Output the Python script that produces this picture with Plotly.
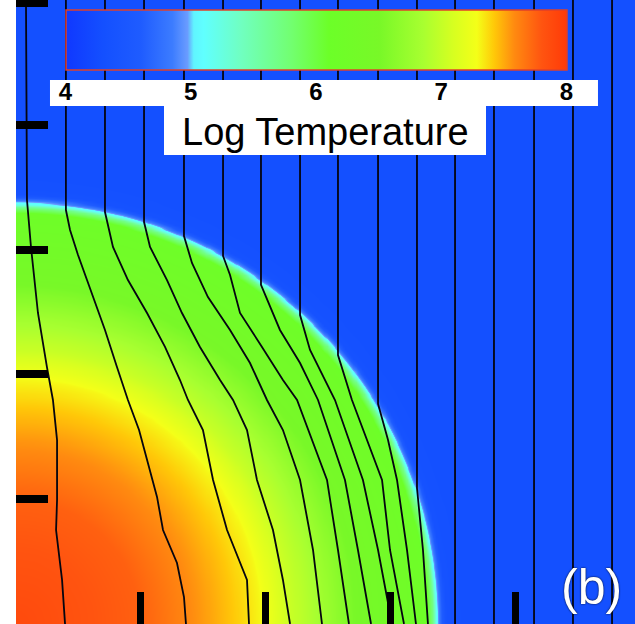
import numpy as np
import plotly.graph_objects as go

# ---------------- data ----------------
# radial temperature profile of the bubble (distance from origin, log T)
r_profile = [0.0, 0.99, 1.47, 1.74, 1.96, 2.20, 2.40, 2.72, 3.04, 3.24, 3.29, 3.34, 3.37, 3.40, 3.44, 3.60, 9.0]
logT_profile = [7.88, 7.75, 7.55, 7.42, 7.30, 7.02, 6.85, 6.50, 6.30, 6.20, 6.15, 5.70, 5.10, 4.75, 4.35, 4.30, 4.30]

x_extent = [0.0, 4.96]
y_extent = [0.0, 5.0]

# field lines (x, y) in data units
field_lines = [
    ([0.08, 0.088, 0.120, 0.176, 0.248, 0.296, 0.329, 0.329, 0.321, 0.369, 0.393],
     [5.0, 3.397, 3.021, 2.492, 2.059, 1.795, 1.474, 0.994, 0.753, 0.353, 0.0]),
    ([0.40, 0.40, 0.433, 0.497, 0.569, 0.713, 0.809, 0.897, 0.986, 1.058, 1.130, 1.178, 1.290, 1.346, 1.362],
     [5.0, 3.317, 3.157, 2.957, 2.756, 2.356, 2.059, 1.795, 1.554, 1.290, 1.018, 0.753, 0.489, 0.216, 0.0]),
    ([0.713, 0.713, 0.777, 0.897, 1.050, 1.194, 1.314, 1.378, 1.498, 1.579, 1.691, 1.851, 1.867],
     [5.0, 3.301, 3.021, 2.756, 2.492, 2.220, 1.955, 1.795, 1.554, 1.154, 0.753, 0.353, 0.0]),
    ([1.026, 1.026, 1.074, 1.210, 1.330, 1.474, 1.635, 1.739, 1.851, 1.931, 2.059, 2.139, 2.196],
     [5.0, 3.221, 3.021, 2.756, 2.492, 2.220, 1.955, 1.795, 1.554, 1.154, 0.753, 0.353, 0.0]),
    ([1.346, 1.346, 1.410, 1.538, 1.715, 1.875, 2.011, 2.139, 2.276, 2.380, 2.452],
     [5.0, 3.109, 2.893, 2.620, 2.356, 2.091, 1.795, 1.554, 1.154, 0.593, 0.0]),
    ([1.659, 1.659, 1.715, 1.795, 1.971, 2.139, 2.252, 2.492, 2.580, 2.668],
     [5.0, 2.949, 2.796, 2.492, 2.220, 1.955, 1.795, 1.154, 0.593, 0.0]),
    ([1.963, 1.963, 2.115, 2.276, 2.420, 2.636, 2.740, 2.845],
     [5.0, 2.717, 2.356, 2.091, 1.795, 1.154, 0.593, 0.0]),
    ([2.276, 2.276, 2.356, 2.556, 2.780, 2.901, 3.013],
     [5.0, 2.476, 2.196, 1.795, 1.154, 0.593, 0.0]),
    ([2.580, 2.580, 2.692, 2.933, 2.997, 3.109],
     [5.0, 2.155, 1.795, 1.154, 0.593, 0.0]),
    ([2.901, 2.901, 2.981, 3.053, 3.133, 3.205],
     [5.0, 1.763, 1.474, 1.154, 0.593, 0.0]),
    ([3.213, 3.213, 3.261, 3.301],
     [5.0, 1.090, 0.593, 0.0]),
    ([3.518, 3.518], [5.0, 0.0]),
    ([3.830, 3.830], [5.0, 0.0]),
    ([4.151, 4.151], [5.0, 0.0]),
    ([4.463, 4.463], [5.0, 0.0]),
    ([4.776, 4.776], [5.0, 0.0]),
]

cbar_ticks = [4, 5, 6, 7, 8]
cbar_title = "Log Temperature"
panel_label = "(b)"
x_ticks = [1, 2, 3, 4]
y_ticks = [1, 2, 3, 4, 4.98]

# colour scale (log T -> colour)
scale_vals = [4.00, 4.30, 4.60, 4.85, 4.97, 5.02, 5.10, 5.40, 5.80, 6.10, 6.50, 6.85, 7.10, 7.28, 7.42, 7.58, 7.80, 8.00]
scale_cols = ["#1038ff", "#1450ff", "#1f5cff", "#3c7cff", "#6a9cff", "#60f4ff", "#60ffff", "#70ffc0",
              "#72ff70", "#6cff28", "#78f828", "#a8ff30", "#d8ff20", "#f4ff18", "#ffc808", "#ff8a10",
              "#ff5410", "#ff3a08"]

# ---------------- figure ----------------
gx = np.linspace(x_extent[0], x_extent[1], 300)
gy = np.linspace(y_extent[0], y_extent[1], 300)
GX, GY = np.meshgrid(gx, gy)
Z = np.interp(np.sqrt(GX**2 + GY**2), r_profile, logT_profile)

colorscale = [[(v - 4.0) / 4.0, c] for v, c in zip(scale_vals, scale_cols)]

fig = go.Figure()
fig.add_trace(go.Heatmap(
    x=gx, y=gy, z=Z, zmin=4, zmax=8, zsmooth="best",
    colorscale=colorscale, hoverinfo="skip",
    colorbar=dict(
        orientation="h", x=0.08, xanchor="left", y=0.984, yanchor="top",
        len=501, lenmode="pixels", thickness=60, xpad=0, ypad=0,
        outlinecolor="#e0402a", outlinewidth=1.5, borderwidth=0,
        tickvals=cbar_ticks, ticks="",
        tickfont=dict(family="Liberation Sans, Arial, sans-serif", size=24, color="black",
                      weight="bold"),
    ),
))

for xs, ys in field_lines:
    fig.add_trace(go.Scatter(x=xs, y=ys, mode="lines", line=dict(color="#050510", width=1.8),
                             hoverinfo="skip", showlegend=False))

fig.update_layout(
    width=635, height=624,
    margin=dict(l=16, r=0, t=0, b=0),
    paper_bgcolor="white", plot_bgcolor="#1450ff",
    showlegend=False,
    xaxis=dict(range=x_extent, showgrid=False, zeroline=False, showticklabels=False,
               tickvals=x_ticks, ticks="inside", ticklen=32, tickwidth=7, tickcolor="black",
               showline=False, fixedrange=True),
    yaxis=dict(range=y_extent, showgrid=False, zeroline=False, showticklabels=False,
               tickvals=y_ticks, ticks="inside", ticklen=32, tickwidth=8, tickcolor="black",
               showline=False, fixedrange=True),
    shapes=[
        dict(type="rect", xref="paper", yref="paper", x0=0.0549, x1=0.9402, y0=0.8301, y1=0.8718,
             fillcolor="white", line=dict(width=0), layer="above"),
        dict(type="rect", xref="paper", yref="paper", x0=0.2391, x1=0.7593, y0=0.7516, y1=0.8301,
             fillcolor="white", line=dict(width=0), layer="above"),
    ],
    annotations=[
        dict(text=cbar_title, xref="paper", yref="paper", x=0.4992, y=0.7885,
             xanchor="center", yanchor="middle", showarrow=False,
             font=dict(family="Liberation Sans, Arial, sans-serif", size=38, color="black")),
        dict(text=panel_label, xref="paper", yref="paper", x=0.9305, y=0.0593,
             xanchor="center", yanchor="middle", showarrow=False,
             font=dict(family="Liberation Sans, Arial, sans-serif", size=50, color="white",
                       shadow="0px 0px 2px #000")),
    ],
)

fig.write_html("out.html")
